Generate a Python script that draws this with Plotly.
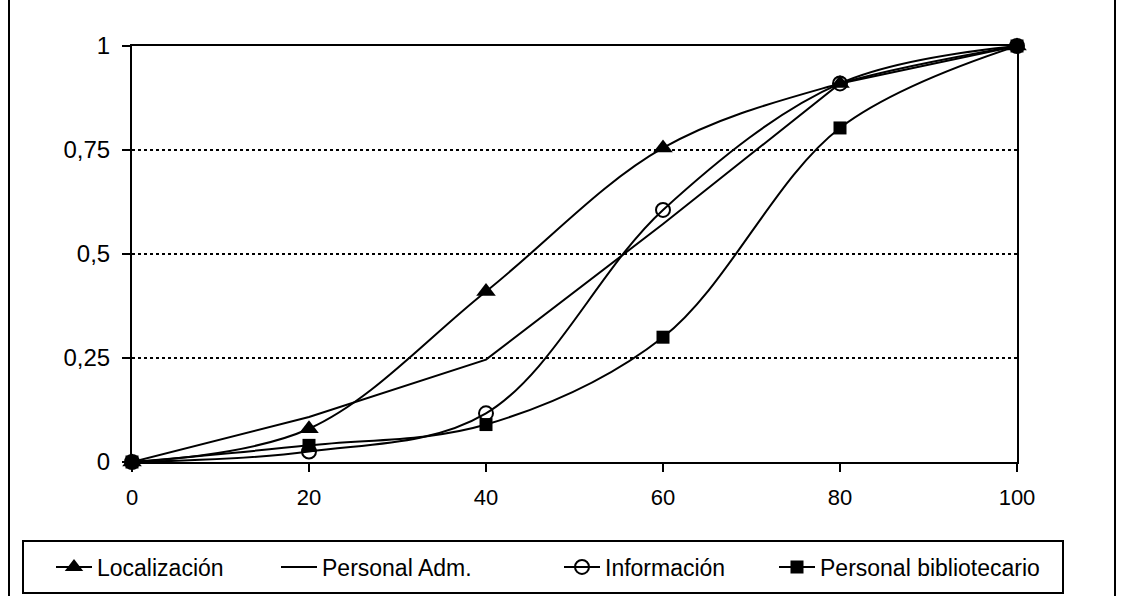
import plotly.graph_objects as go

x_vals = [0, 20, 40, 60, 80, 100]
localizacion = [0.0, 0.08, 0.41, 0.755, 0.91, 1.0]
personal_adm = [0.0, 0.108, 0.246, 0.572, 0.91, 1.0]
informacion = [0.0, 0.025, 0.117, 0.606, 0.91, 1.0]
personal_bib = [0.0, 0.04, 0.09, 0.30, 0.803, 1.0]

series_names = ["Localización", "Personal Adm.", "Información", "Personal bibliotecario"]

y_ticks = [0, 0.25, 0.5, 0.75, 1]
y_tick_labels = ["0", "0,25", "0,5", "0,75", "1"]
x_ticks = [0, 20, 40, 60, 80, 100]

FONT = "Liberation Sans, Arial, sans-serif"

W, H = 1124, 596
L, R, T, B = 132, 1017, 46, 462  # pixels of plot area
pw, ph = R - L, B - T


def px_x(p):
    return (p - L) / pw


def px_y(p):
    return (B - p) / ph


fig = go.Figure()
fig.add_trace(go.Scatter(
    x=x_vals, y=localizacion, name=series_names[0], mode="lines+markers",
    line=dict(color="black", width=2, shape="spline", smoothing=1),
    marker=dict(symbol="triangle-up", size=17, color="black"), cliponaxis=False,
    legend="legend"))
fig.add_trace(go.Scatter(
    x=x_vals, y=personal_adm, name=series_names[1], mode="lines",
    line=dict(color="black", width=2), cliponaxis=False, legend="legend2"))
fig.add_trace(go.Scatter(
    x=x_vals, y=informacion, name=series_names[2], mode="lines+markers",
    line=dict(color="black", width=2, shape="spline", smoothing=1),
    marker=dict(symbol="circle-open", size=14, color="black", line=dict(width=2)),
    cliponaxis=False, legend="legend3"))
fig.add_trace(go.Scatter(
    x=x_vals, y=personal_bib, name=series_names[3], mode="lines+markers",
    line=dict(color="black", width=2, shape="spline", smoothing=1),
    marker=dict(symbol="square", size=13, color="black"), cliponaxis=False,
    legend="legend4"))

legend_text_x = [101, 326, 609, 824]  # pixel where each legend label starts
legend_font = dict(family=FONT, size=23, color="black")


def leg(text_x):
    return dict(
        orientation="h", x=px_x(text_x - 50), y=px_y(567), xanchor="left", yanchor="middle",
        borderwidth=0, bgcolor="rgba(0,0,0,0)", font=legend_font, itemwidth=36,
    )


fig.update_layout(
    width=W, height=H,
    margin=dict(l=L, r=W - R, t=T, b=H - B, pad=0, autoexpand=False),
    paper_bgcolor="white", plot_bgcolor="white",
    font=dict(family=FONT, size=23, color="black"),
    showlegend=True,
    legend=leg(legend_text_x[0]),
    legend2=leg(legend_text_x[1]),
    legend3=leg(legend_text_x[2]),
    legend4=leg(legend_text_x[3]),
    xaxis=dict(
        range=[0, 100], tickvals=x_ticks, ticks="outside", ticklen=8, tickwidth=2,
        tickcolor="black", showline=True, linecolor="black", linewidth=2, mirror=True,
        showgrid=False, zeroline=False, tickfont=dict(size=22), fixedrange=True,
        ticklabelstandoff=7,
    ),
    yaxis=dict(
        range=[0, 1], tickvals=y_ticks, ticktext=y_tick_labels, ticks="outside",
        ticklen=8, tickwidth=2, tickcolor="black", showline=True, linecolor="black",
        linewidth=2, mirror=True, showgrid=True, gridcolor="black", gridwidth=1.5,
        griddash="dot", zeroline=False, tickfont=dict(size=24), fixedrange=True,
        ticklabelstandoff=7,
    ),
    shapes=[
        dict(type="rect", xref="paper", yref="paper",
             x0=px_x(9), x1=px_x(1115), y0=px_y(640), y1=px_y(-30),
             line=dict(color="black", width=2), fillcolor="rgba(0,0,0,0)", layer="below"),
        dict(type="rect", xref="paper", yref="paper",
             x0=px_x(23), x1=px_x(1063), y0=px_y(593), y1=px_y(541),
             line=dict(color="black", width=2), fillcolor="rgba(0,0,0,0)", layer="below"),
    ],
)

fig.write_html(
    "out.html",
    config={"displayModeBar": False},
    post_script="document.body.style.margin='0';document.body.style.overflow='hidden';",
)
